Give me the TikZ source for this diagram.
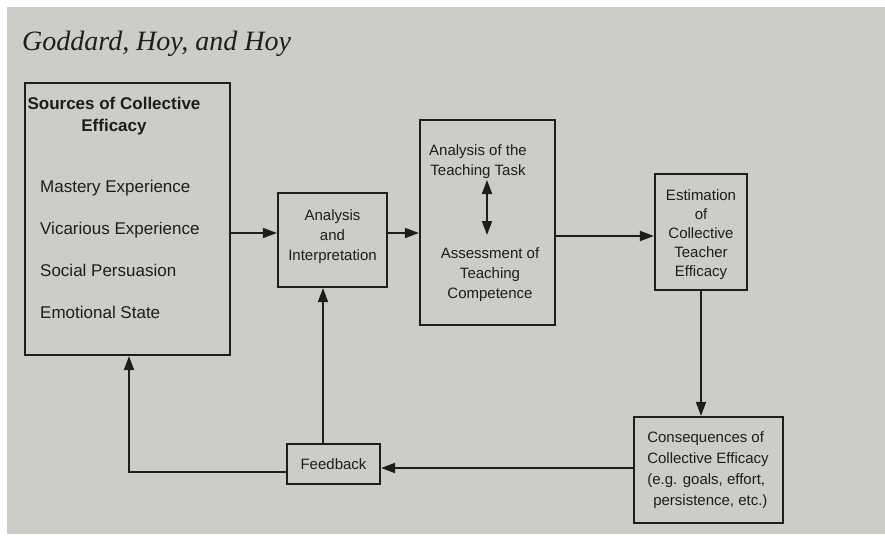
\documentclass[tikz,border=0pt]{standalone}
\usepackage{fontspec}
\setmainfont{Liberation Sans}
\newfontfamily\titlefont{Liberation Serif}
\usetikzlibrary{arrows.meta}
\definecolor{paper}{RGB}{206,204,199}
\definecolor{ink}{RGB}{30,29,28}

\begin{document}
\begin{tikzpicture}[x=1pt, y=-1pt, color=ink,
		box/.style={draw=ink, line width=2.2pt, inner sep=0pt},
		boxtext/.style={font=\fontsize{15}{20}\selectfont, align=center, inner sep=0pt},
		link/.style={draw=ink, line width=1.8pt, -{Triangle[length=14pt,width=10pt]}}]
		
		\useasboundingbox (0,0) rectangle (885,540);
		\fill[white] (0,0) rectangle (885,540);
		\fill[paper] (7,7) rectangle (885,534);
		
		\node[anchor=base west, inner sep=0pt, font=\titlefont\itshape\fontsize{28}{30}\selectfont] (title) at (22,51) {Goddard, Hoy, and Hoy};
		
		% boxes
		\node[box, minimum width=205pt, minimum height=272pt] (src) at (127.5,219) {};
		\node[box, minimum width=109pt, minimum height=94pt] (ana) at (332.5,240) {};
		\node[box, minimum width=135pt, minimum height=205pt] (mid) at (487.5,222.5) {};
		\node[box, minimum width=92pt, minimum height=116pt] (est) at (701,232) {};
		\node[box, minimum width=149pt, minimum height=106pt] (con) at (708.5,470) {};
		\node[box, minimum width=93pt, minimum height=40pt] (fb) at (333.5,464) {};
		
		% texts
		\node[inner sep=0pt, align=center, font=\bfseries\fontsize{17}{22}\selectfont] (srchead) at (114,116) {Sources of Collective\\Efficacy};
		\foreach \txt [count=\i] in {Mastery Experience, Vicarious Experience, Social Persuasion, Emotional State}
		\node[anchor=base west, inner sep=0pt, font=\fontsize{17}{20}\selectfont] (item\i) at (40,151.3+41.7*\i) {\txt};
		
		\node[boxtext] (anatext) at (332.5,237) {Analysis\\and\\Interpretation};
		\node[boxtext] (task) at (478,162) {Analysis of the\\Teaching Task};
		\node[boxtext] (comp) at (490,275) {Assessment of\\Teaching\\Competence};
		\node[boxtext, font=\fontsize{15}{19}\selectfont] (esttext) at (701,235) {Estimation\\of\\Collective\\Teacher\\Efficacy};
		\node[boxtext, align=left, font=\fontsize{15}{21}\selectfont] (context) at (708,470) {Consequences of\\Collective Efficacy\\(e.g. goals, effort,\\\hspace*{6pt}persistence, etc.)};
		\node[boxtext] (fbtext) at (333.5,464) {Feedback};
		
		\coordinate (ttop) at (487,180);
		\coordinate (tbot) at (487,235);
		
		% connectors
		\draw[link, {Triangle[length=14pt,width=10pt]}-{Triangle[length=14pt,width=10pt]}] (ttop) -- (tbot);
		\draw[link] (src.east |- 0,233) -- (ana.west |- 0,233);
		\draw[link] (ana.east |- 0,233) -- (mid.west |- 0,233);
		\draw[link] (mid.east |- 0,236) -- (est.west |- 0,236);
		\draw[link] (est.south) -- (est.south |- con.north);
		\draw[link] (con.west |- 0,468) -- (fb.east |- 0,468);
		\draw[link] (fb.north -| 323,0) -- (ana.south -| 323,0);
		\draw[link] (fb.west |- 0,472) -| (src.south -| 129,0);
		
\end{tikzpicture}
\end{document}
